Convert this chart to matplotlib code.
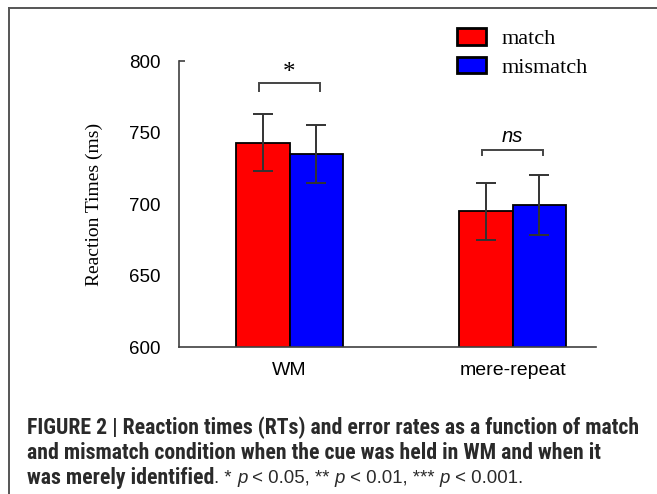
import matplotlib
matplotlib.use("Agg")
import matplotlib.pyplot as plt
from matplotlib import font_manager
from matplotlib.lines import Line2D
import numpy as np

# ---- data ----
groups = ["WM", "mere-repeat"]
series = ["match", "mismatch"]
match_rt = [743, 695]
mismatch_rt = [735, 699]
match_err = [20, 20]
mismatch_err = [20, 21]
yticks = [600, 650, 700, 750, 800]
sig_labels = ["*", "ns"]
caption_bold_1 = "FIGURE 2 | Reaction times (RTs) and error rates as a function of match"
caption_bold_2 = "and mismatch condition when the cue was held in WM and when it"
caption_bold_3 = "was merely identified"

W, H = 657, 494
fig = plt.figure(figsize=(W / 100, H / 100), dpi=100)

def fx(px):
    return px / W

def fy(py):
    return 1 - py / H

# font choices
def has_font(name):
    try:
        font_manager.findfont(font_manager.FontProperties(family=name), fallback_to_default=False)
        return True
    except Exception:
        return False

narrow = None
for cand in ["Liberation Sans Narrow", "Roboto Condensed", "DejaVu Sans Condensed", "Roboto"]:
    if has_font(cand):
        narrow = cand
        break
if narrow is None:
    narrow = "DejaVu Sans"

sans = "Liberation Sans"
serif = "Liberation Serif"

ax = fig.add_axes([fx(179), fy(347), fx(596) - fx(179), fy(61) - fy(347)])

x = np.arange(len(groups))
w = 0.24
grey = "#333333"
b1 = ax.bar(x - w / 2, match_rt, width=w, color="#ff0000", edgecolor="black", linewidth=1.3,
            label=series[0], zorder=2)
b2 = ax.bar(x + w / 2, mismatch_rt, width=w, color="#0000ff", edgecolor="black", linewidth=1.3,
            label=series[1], zorder=2)
ax.errorbar(x - w / 2, match_rt, yerr=match_err, fmt="none", ecolor=grey, elinewidth=1.4,
            capsize=7.5, capthick=1.4, zorder=3)
ax.errorbar(x + w / 2, mismatch_rt, yerr=mismatch_err, fmt="none", ecolor=grey, elinewidth=1.4,
            capsize=7.5, capthick=1.4, zorder=3)

ax.set_xlim(-0.4955, 1.374)
ax.set_ylim(600, 800)
ax.set_yticks(yticks)
ax.set_yticklabels([str(v) for v in yticks], fontfamily=sans, fontsize=13.5)
ax.set_xticks(x)
ax.set_xticklabels(groups, fontfamily=sans, fontsize=14)
ax.tick_params(axis="x", length=0, pad=11)
ax.tick_params(axis="y", direction="in", length=4, width=1.2, color="#404040", pad=13)
for t, v in zip(ax.yaxis.get_major_ticks(), yticks):
    t.tick1line.set_visible(v == 800)
for s in ["top", "right"]:
    ax.spines[s].set_visible(False)
for s in ["left", "bottom"]:
    ax.spines[s].set_color("#404040")
    ax.spines[s].set_linewidth(1.2)
ax.set_ylabel("Reaction Times (ms)", fontfamily=serif, fontsize=14, labelpad=19)

# significance brackets
brk = [(0, 784.5, 779.0, 791.5), (1, 737.8, 734.0, 747.0)]
for (gi, ytop, ybot, ytxt), lab in zip(brk, sig_labels):
    xl, xr = gi - w / 2 - 0.015, gi + w / 2 + 0.015
    ax.plot([xl, xl, xr, xr], [ybot, ytop, ytop, ybot], color="#444444", lw=1.4,
            solid_joinstyle="miter", clip_on=False)
    if lab == "*":
        ax.text(gi, ytxt, lab, ha="center", va="center", fontfamily=serif, fontsize=18)
    else:
        ax.text(gi, ytxt, lab, ha="center", va="center", fontfamily=sans, fontsize=14.5,
                style="italic")

# legend
leg = fig.legend(handles=[b1, b2], labels=series, loc="upper left",
                 bbox_to_anchor=(fx(453), fy(24)), frameon=False,
                 prop={"family": serif, "size": 16}, handlelength=1.27, handleheight=0.77,
                 handletextpad=0.7, labelspacing=0.32, borderaxespad=0, borderpad=0.2)
for p in leg.get_patches():
    p.set_linewidth(2)

# outer border
fig.add_artist(Line2D([fx(8.5), fx(W)], [fy(8.5), fy(8.5)], color="#555555", lw=1.4))
fig.add_artist(Line2D([fx(8.5), fx(8.5)], [fy(8.5), 0], color="#555555", lw=1.4))

# caption
cap_color = "#2a2a2a"
cap_size = 15.7
renderer = fig.canvas.get_renderer()

def place_line(pieces, x0, yc):
    xcur = x0
    for txt, kw in pieces:
        t = fig.text(fx(xcur), fy(yc), txt, va="center", ha="left", color=cap_color, **kw)
        bb = t.get_window_extent(renderer=renderer)
        xcur += bb.width

bold = dict(fontfamily=narrow, fontweight="bold", fontsize=cap_size)
reg = dict(fontfamily=sans, fontsize=13.4)
ital = dict(fontfamily=sans, fontsize=13.4, style="italic")

place_line([(caption_bold_1, bold)], 27, 428)
place_line([(caption_bold_2, bold)], 27, 453)
place_line([(caption_bold_3, bold), (". * ", reg), ("p", ital), (" < 0.05, ** ", reg),
            ("p", ital), (" < 0.01, *** ", reg), ("p", ital), (" < 0.001.", reg)], 27, 478)

fig.savefig("out.png", dpi=100)
